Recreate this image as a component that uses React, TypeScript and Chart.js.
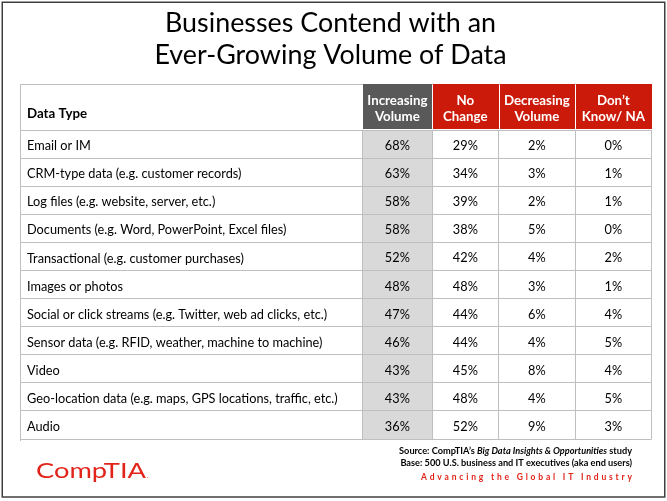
import { useEffect, useRef } from "react";
import { Chart, registerables } from "chart.js";

Chart.register(...registerables);

// ---------- data ----------
const TITLE_LINES = ["Businesses Contend with an", "Ever-Growing Volume of Data"];
const ROW_HEADER = "Data Type";
const DATA_TYPES = [
  "Email or IM",
  "CRM-type data (e.g. customer records)",
  "Log files (e.g. website, server, etc.)",
  "Documents (e.g. Word, PowerPoint, Excel files)",
  "Transactional (e.g. customer purchases)",
  "Images or photos",
  "Social or click streams (e.g. Twitter, web ad clicks, etc.)",
  "Sensor data (e.g. RFID, weather, machine to machine)",
  "Video",
  "Geo-location data (e.g. maps, GPS locations, traffic, etc.)",
  "Audio",
];
const COLUMN_HEADERS = [
  ["Increasing", "Volume"],
  ["No", "Change"],
  ["Decreasing", "Volume"],
  ["Don\u2019t", "Know/ NA"],
];
const INCREASING = [68, 63, 58, 58, 52, 48, 47, 46, 43, 43, 36];
const NO_CHANGE = [29, 34, 39, 38, 42, 48, 44, 44, 45, 48, 52];
const DECREASING = [2, 3, 2, 5, 4, 3, 6, 4, 8, 4, 9];
const DONT_KNOW = [0, 1, 1, 0, 2, 1, 4, 5, 4, 5, 3];
const SOURCE_PARTS = ["Source: CompTIA\u2019s ", "Big Data Insights & Opportunities", " study"];
const BASE_NOTE = "Base: 500 U.S. business and IT executives (aka end users)";
const TAGLINE = "Advancing the Global IT Industry";
const LOGO_TEXT = "CompTIA";

const VALUE_COLUMNS = [INCREASING, NO_CHANGE, DECREASING, DONT_KNOW];

// ---------- layout & style ----------
const W = 667;
const H = 501;
const COL_WIDTHS = [69.3, 66.7, 76.3, 76.7];
const COL_EDGES = COL_WIDTHS.reduce((acc, w) => [...acc, acc[acc.length - 1] + w], [0]);
const TABLE_LEFT = 20;
const LABEL_X = 27;
const AREA_LEFT = 362.7;
const AREA_RIGHT = 651.7;
const HEADER_TOP = 84;
const AREA_TOP = 130;
const AREA_BOTTOM = 439;
const FAMILY = "Lato, 'Open Sans', sans-serif";
const GRID = "#bfbfbf";
const RED = "#cc1a0a";
const DARK = "#595959";
const LIGHT = "#d9d9d9";
const BRAND_RED = "#e2231a";
const HEADER_FILLS = [DARK, RED, RED, RED];
const SHADED_COL = 0;

export default function App() {
  const ref = useRef<HTMLCanvasElement>(null);

  useEffect(() => {
    const canvas = ref.current;
    if (!canvas) return;
    const mctx = document.createElement("canvas").getContext("2d")!;
    const fit = (text: string, style: string, target: number) => {
      mctx.font = `${style} 100px ${FAMILY}`;
      return (100 * target) / mctx.measureText(text).width;
    };
    const labelSize = fit(DATA_TYPES[9], "normal", 311);
    const headerSize = fit("Decreasing", "bold", 66);
    const titleSize = fit(TITLE_LINES[0], "normal", 331);
    const footSize = fit(BASE_NOTE, "bold", 232);

    const plugin = {
      id: "tableDecor",
      beforeDraw(chart: any) {
        const { ctx, chartArea, scales } = chart;
        const x = scales.x;
        ctx.save();
        ctx.fillStyle = "#ffffff";
        ctx.fillRect(0, 0, chart.width, chart.height);
        const x0 = x.getPixelForValue(COL_EDGES[SHADED_COL]);
        const x1 = x.getPixelForValue(COL_EDGES[SHADED_COL + 1]);
        ctx.fillStyle = LIGHT;
        ctx.fillRect(x0, chartArea.top, x1 - x0, chartArea.bottom - chartArea.top);
        ctx.restore();
      },
      afterDraw(chart: any) {
        const { ctx, chartArea, scales } = chart;
        const x = scales.x;
        const y = scales.y;
        ctx.save();

        // table frame lines
        ctx.strokeStyle = GRID;
        ctx.lineWidth = 1;
        ctx.beginPath();
        ctx.moveTo(TABLE_LEFT, HEADER_TOP + 0.5);
        ctx.lineTo(chartArea.right, HEADER_TOP + 0.5);
        ctx.moveTo(TABLE_LEFT + 0.5, HEADER_TOP);
        ctx.lineTo(TABLE_LEFT + 0.5, chartArea.bottom + 2);
        ctx.stroke();

        // header cells
        for (let j = 0; j < COLUMN_HEADERS.length; j++) {
          const x0 = x.getPixelForValue(COL_EDGES[j]);
          const x1 = x.getPixelForValue(COL_EDGES[j + 1]);
          ctx.fillStyle = HEADER_FILLS[j];
          ctx.fillRect(Math.round(x0) + (j === 0 ? 0 : 1), HEADER_TOP, Math.round(x1) - Math.round(x0) - (j === 0 ? 0 : 1), chartArea.top - HEADER_TOP - 1);
          ctx.fillStyle = "#ffffff";
          ctx.font = `bold ${headerSize}px ${FAMILY}`;
          ctx.textAlign = "center";
          ctx.textBaseline = "alphabetic";
          const cx = (x0 + x1) / 2;
          ctx.fillText(COLUMN_HEADERS[j][0], cx, HEADER_TOP + 20.5);
          ctx.fillText(COLUMN_HEADERS[j][1], cx, HEADER_TOP + 37);
        }

        // row header
        ctx.fillStyle = "#000000";
        ctx.textAlign = "left";
        ctx.font = `bold ${headerSize}px ${FAMILY}`;
        ctx.fillText(ROW_HEADER, LABEL_X, HEADER_TOP + 34);

        // values
        ctx.font = `${labelSize}px ${FAMILY}`;
        ctx.textAlign = "center";
        for (let j = 0; j < VALUE_COLUMNS.length; j++) {
          const cx = (x.getPixelForValue(COL_EDGES[j]) + x.getPixelForValue(COL_EDGES[j + 1])) / 2;
          VALUE_COLUMNS[j].forEach((v, i) => {
            ctx.fillText(`${v}%`, cx, y.getPixelForValue(i) + 6);
          });
        }

        // title
        ctx.font = `${titleSize}px ${FAMILY}`;
        ctx.textAlign = "center";
        ctx.fillText(TITLE_LINES[0], 330.5, 32);
        ctx.fillText(TITLE_LINES[1], 330.5, 64);

        // footer
        const right = 632;
        const fonts = [`bold ${footSize}px ${FAMILY}`, `italic bold ${footSize}px ${FAMILY}`, `bold ${footSize}px ${FAMILY}`];
        const widths = SOURCE_PARTS.map((p, k) => {
          ctx.font = fonts[k];
          return ctx.measureText(p).width;
        });
        let fx = right - widths.reduce((a, b) => a + b, 0);
        ctx.textAlign = "left";
        SOURCE_PARTS.forEach((p, k) => {
          ctx.font = fonts[k];
          ctx.fillText(p, fx, 453.5);
          fx += widths[k];
        });
        ctx.font = `bold ${footSize}px ${FAMILY}`;
        ctx.textAlign = "right";
        ctx.fillText(BASE_NOTE, right, 465.5);

        // tagline, letter-spaced
        ctx.font = `bold 8.5px ${FAMILY}`;
        ctx.fillStyle = BRAND_RED;
        ctx.textAlign = "left";
        const chars = TAGLINE.split("");
        const natural = chars.reduce((a, c) => a + ctx.measureText(c).width, 0);
        const spacing = (211 - natural) / (chars.length - 1);
        let tx = right - 211;
        chars.forEach((c) => {
          ctx.fillText(c, tx, 479.5);
          tx += ctx.measureText(c).width + spacing;
        });

        // logo (stretched horizontally to the wordmark's width)
        ctx.font = `normal 21px ${FAMILY}`;
        ctx.fillStyle = BRAND_RED;
        const lw = ctx.measureText(LOGO_TEXT).width;
        ctx.save();
        ctx.translate(36, 478);
        ctx.scale(110 / lw, 1);
        ctx.fillText(LOGO_TEXT, 0, 0);
        ctx.restore();
        ctx.font = `bold 5px ${FAMILY}`;
        ctx.fillText(".", 147, 478);

        // outer border
        ctx.strokeStyle = "#404040";
        ctx.lineWidth = 1.5;
        ctx.strokeRect(2.25, 2.25, 662.5, 494.75);
        ctx.restore();
      },
    };

    const chart = new Chart(canvas, {
      type: "bar",
      data: { labels: DATA_TYPES, datasets: [] },
      options: {
        indexAxis: "y",
        responsive: false,
        animation: false,
        devicePixelRatio: 1,
        layout: {
          padding: { left: LABEL_X, right: W - AREA_RIGHT, top: HEADER_TOP, bottom: H - AREA_BOTTOM },
        },
        plugins: {
          legend: { display: false },
          title: { display: false },
          tooltip: { enabled: false },
        },
        scales: {
          x: {
            type: "linear",
            position: "top",
            min: 0,
            max: COL_EDGES[COL_EDGES.length - 1],
            afterBuildTicks: (s: any) => {
              s.ticks = COL_EDGES.map((v) => ({ value: v }));
            },
            afterFit: (s: any) => {
              s.height = AREA_TOP - HEADER_TOP;
            },
            ticks: { display: false },
            grid: { color: GRID, drawTicks: false, lineWidth: 1 },
            border: { display: true, color: GRID },
          },
          y: {
            type: "category",
            position: "left",
            offset: true,
            afterFit: (s: any) => {
              s.width = AREA_LEFT - LABEL_X;
            },
            grid: {
              offset: true,
              color: GRID,
              drawTicks: true,
              tickLength: AREA_LEFT - TABLE_LEFT,
              tickColor: GRID,
            },
            border: { display: true, color: GRID },
            ticks: {
              crossAlign: "far",
              color: "#000000",
              autoSkip: false,
              padding: 0,
              labelOffset: 2,
              font: { family: FAMILY, size: labelSize },
            },
          },
        },
      } as any,
      plugins: [plugin],
    });
    return () => chart.destroy();
  }, []);

  return (
    <div style={{ position: "absolute", left: 0, top: 0, width: W, height: H }}>
      <canvas ref={ref} width={W} height={H} style={{ display: "block", width: W, height: H }} />
    </div>
  );
}
